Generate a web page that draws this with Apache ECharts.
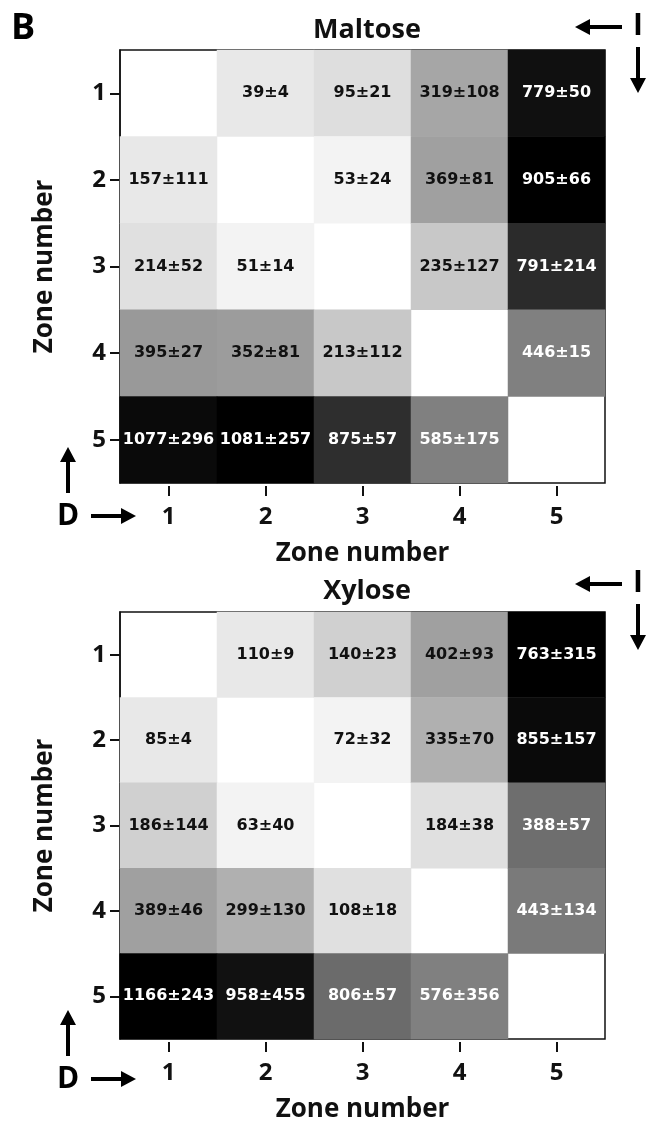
<!DOCTYPE html>
<html>
<head>
<meta charset="utf-8">
<script src="https://cdn.jsdelivr.net/npm/echarts@6/dist/echarts.min.js"></script>
<style>html,body{margin:0;padding:0;background:#fff}#c{width:647px;height:1124px}</style>
</head>
<body>
<div id="c"></div>
<script>
// ---- data (rows = zone 1..5 top to bottom, columns = zone 1..5 left to right) ----
var zones = ['1', '2', '3', '4', '5'];
var panelTitles = ['Maltose', 'Xylose'];
var axisName = 'Zone number';

var maltoseMean = [
  [null, 39, 95, 319, 779],
  [157, null, 53, 369, 905],
  [214, 51, null, 235, 791],
  [395, 352, 213, null, 446],
  [1077, 1081, 875, 585, null]
];
var maltoseSD = [
  [null, 4, 21, 108, 50],
  [111, null, 24, 81, 66],
  [52, 14, null, 127, 214],
  [27, 81, 112, null, 15],
  [296, 257, 57, 175, null]
];
// gray level of each cell (0 = black, 255 = white)
var maltoseShade = [
  [255, 232, 222, 166, 16],
  [232, 255, 243, 160, 0],
  [224, 243, 255, 200, 43],
  [153, 156, 200, 255, 128],
  [10, 0, 46, 128, 255]
];

var xyloseMean = [
  [null, 110, 140, 402, 763],
  [85, null, 72, 335, 855],
  [186, 63, null, 184, 388],
  [389, 299, 108, null, 443],
  [1166, 958, 806, 576, null]
];
var xyloseSD = [
  [null, 9, 23, 93, 315],
  [4, null, 32, 70, 157],
  [144, 40, null, 38, 57],
  [46, 130, 18, null, 134],
  [243, 455, 57, 356, null]
];
var xyloseShade = [
  [255, 232, 208, 160, 0],
  [232, 255, 243, 176, 10],
  [208, 243, 255, 224, 110],
  [160, 176, 224, 255, 122],
  [0, 17, 107, 128, 255]
];

// ---- build ----
function build(mean, sd, shade) {
  var out = [];
  for (var r = 0; r < 5; r++) {
    for (var c = 0; c < 5; c++) {
      if (mean[r][c] == null) continue;
      out.push({
        value: [c, r, mean[r][c], sd[r][c], shade[r][c]],
        label: { color: shade[r][c] < 150 ? '#ffffff' : '#111111' }
      });
    }
  }
  return out;
}

var FONT = '"Open Sans", "DejaVu Sans", sans-serif';
var grids = [
  { left: 120, right: 42, top: 50, height: 433 },
  { left: 120, right: 42, top: 612, height: 435 }
];

function xAx(i) {
  return {
    type: 'category', gridIndex: i, data: zones, position: 'bottom', offset: 3,
    name: axisName, nameLocation: 'middle', nameGap: 55,
    nameTextStyle: { fontFamily: FONT, fontWeight: 'bold', fontSize: 26, color: '#111' },
    axisLine: { show: false },
    axisTick: { show: true, alignWithLabel: true, length: 10, lineStyle: { color: '#111', width: 2 } },
    axisLabel: { fontFamily: FONT, fontWeight: 'bold', fontSize: 24, color: '#111', margin: 19 },
    splitLine: { show: false }
  };
}
function yAx(i) {
  return {
    type: 'category', gridIndex: i, data: zones, inverse: true, position: 'left',
    name: axisName, nameLocation: 'middle', nameGap: 62, nameRotate: 90,
    nameTextStyle: { fontFamily: FONT, fontWeight: 'bold', fontSize: 26, color: '#111' },
    axisLine: { show: true, lineStyle: { color: '#111', width: 1.5 } },
    axisTick: { show: true, alignWithLabel: true, length: 10, lineStyle: { color: '#111', width: 2 } },
    axisLabel: { fontFamily: FONT, fontWeight: 'bold', fontSize: 24, color: '#111', margin: 14 },
    splitLine: { show: false }
  };
}

function series(i, data) {
  return {
    type: 'heatmap', xAxisIndex: i, yAxisIndex: i, data: data,
    label: {
      show: true, fontFamily: '"DejaVu Sans", sans-serif', fontWeight: 'bold', fontSize: 16,
      formatter: function (p) { return p.value[2] + '\u00b1' + p.value[3]; }
    },
    emphasis: { disabled: true }
  };
}

// arrow annotation helpers
function arrow(x1, y1, x2, y2) {
  var dx = x2 - x1, dy = y2 - y1, len = Math.sqrt(dx * dx + dy * dy);
  var ux = dx / len, uy = dy / len, hl = 15, hw = 8;
  var bx = x2 - ux * hl, by = y2 - uy * hl;
  return [
    { type: 'line', shape: { x1: x1, y1: y1, x2: bx, y2: by }, style: { stroke: '#000', lineWidth: 4 } },
    { type: 'polygon', shape: { points: [[x2, y2], [bx - uy * hw, by + ux * hw], [bx + uy * hw, by - ux * hw]] }, style: { fill: '#000' } }
  ];
}
function letter(t, x, y, size) {
  return { type: 'text', x: x, y: y, style: { text: t, fontFamily: FONT, fontWeight: 'bold', fontSize: size, fill: '#000', align: 'center', verticalAlign: 'middle' } };
}
var graphics = [letter('B', 23, 29, 36)];
[0, 563].forEach(function (o) {
  var oo = o === 0 ? 0 : 557;
  graphics = graphics.concat(arrow(622, 27 + oo, 575, 27 + oo));
  graphics.push(letter('I', 638, 26 + oo, 30));
  graphics = graphics.concat(arrow(638, 47 + oo, 638, 93 + oo));
  graphics = graphics.concat(arrow(68, 493 + o, 68, 447 + o));
  graphics.push(letter('D', 68, 516 + o, 30));
  graphics = graphics.concat(arrow(91, 516 + o, 136, 516 + o));
});

var chart = echarts.init(document.getElementById('c'), null, { renderer: 'canvas' });
chart.setOption({
  backgroundColor: '#ffffff',
  animation: false,
  title: [
    { text: panelTitles[0], left: 362, top: 12, textAlign: 'center', textStyle: { fontFamily: FONT, fontWeight: 'bold', fontSize: 27, color: '#111' } },
    { text: panelTitles[1], left: 362, top: 573, textAlign: 'center', textStyle: { fontFamily: FONT, fontWeight: 'bold', fontSize: 27, color: '#111' } }
  ],
  grid: grids.map(function (g) {
    return Object.assign({ show: true, borderColor: '#111', borderWidth: 1.5, backgroundColor: 'transparent' }, g);
  }),
  xAxis: [xAx(0), xAx(1)],
  yAxis: [yAx(0), yAx(1)],
  visualMap: {
    show: false, type: 'continuous', dimension: 4, min: 0, max: 255,
    seriesIndex: [0, 1], inRange: { color: ['#000000', '#ffffff'] }
  },
  series: [
    series(0, build(maltoseMean, maltoseSD, maltoseShade)),
    series(1, build(xyloseMean, xyloseSD, xyloseShade))
  ],
  graphic: graphics
});
</script>
</body>
</html>
